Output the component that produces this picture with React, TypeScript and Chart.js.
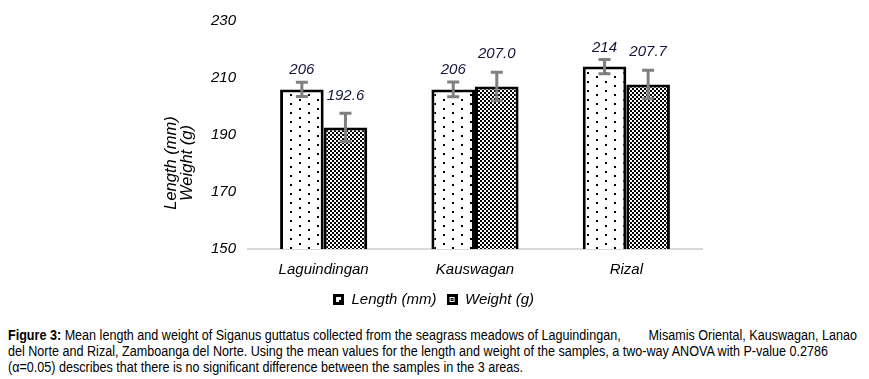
import React, { useEffect, useLayoutEffect, useRef } from "react";
import { Chart, registerables } from "chart.js";

Chart.register(...registerables);

const categories = ["Laguindingan", "Kauswagan", "Rizal"];
const lengthValues = [206, 206, 214];
const weightValues = [192.6, 207.0, 207.7];
const lengthErrors = [2.5, 2.6, 2.5];
const weightErrors = [5, 5, 5];
const lengthLabels = ["206", "206", "214"];
const weightLabels = ["192.6", "207.0", "207.7"];
const yTicks = [150, 170, 190, 210, 230];
const yTitleLines = ["Length (mm)", "Weight (g)"];
const captionLines = [
  " Mean length and weight of Siganus guttatus collected from the seagrass meadows of Laguindingan,        Misamis Oriental, Kauswagan, Lanao",
  "del Norte and Rizal, Zamboanga del Norte. Using the mean values for the length and weight of the samples, a two-way ANOVA with P-value 0.2786",
  "(\u03b1=0.05) describes that there is no significant difference between the samples in the 3 areas.",
];

function makeDotPattern(ctx: CanvasRenderingContext2D) {
  const c = document.createElement("canvas");
  c.width = 18;
  c.height = 9;
  const g = c.getContext("2d")!;
  g.fillStyle = "#fff";
  g.fillRect(0, 0, 18, 9);
  g.fillStyle = "#000";
  g.fillRect(3, 1, 2, 2);
  g.fillRect(12, 5, 2, 2);
  return ctx.createPattern(c, "repeat")!;
}

function makeCheckPattern(ctx: CanvasRenderingContext2D) {
  const c = document.createElement("canvas");
  c.width = 4;
  c.height = 4;
  const g = c.getContext("2d")!;
  g.fillStyle = "#fff";
  g.fillRect(0, 0, 4, 4);
  g.fillStyle = "#000";
  g.fillRect(0, 0, 2, 2);
  g.fillRect(2, 2, 2, 2);
  return ctx.createPattern(c, "repeat")!;
}

function makeLegendIcon(kind: "dot" | "check") {
  const c = document.createElement("canvas");
  c.width = 11;
  c.height = 11;
  const g = c.getContext("2d")!;
  g.fillStyle = "#000";
  g.fillRect(0, 0, 11, 11);
  g.fillStyle = "#fff";
  if (kind === "dot") {
    g.fillRect(3, 3, 5, 5);
    g.fillStyle = "#000";
    g.fillRect(6, 6, 2, 2);
  } else {
    g.fillRect(3, 3, 5, 5);
    g.fillStyle = "#000";
    g.fillRect(4, 4, 3, 3);
    g.fillStyle = "#fff";
    g.fillRect(5, 5, 1, 1);
  }
  return c;
}

const errorLabelPlugin = {
  id: "errorLabels",
  afterDatasetsDraw(chart: any) {
    const ctx = chart.ctx;
    const y = chart.scales.y;
    const errs = [lengthErrors, weightErrors];
    const labs = [lengthLabels, weightLabels];
    const offsets = [12, 18];
    chart.data.datasets.forEach((ds: any, di: number) => {
      const meta = chart.getDatasetMeta(di);
      meta.data.forEach((bar: any, i: number) => {
        const v = ds.data[i];
        const e = errs[di][i];
        const x = bar.x;
        const yt = y.getPixelForValue(v + e);
        const yb = y.getPixelForValue(v - e);
        ctx.save();
        ctx.strokeStyle = "#7f7f7f";
        ctx.lineWidth = 3;
        ctx.beginPath();
        ctx.moveTo(x, yt);
        ctx.lineTo(x, yb);
        ctx.moveTo(x - 6, yt);
        ctx.lineTo(x + 6, yt);
        ctx.moveTo(x - 6, yb);
        ctx.lineTo(x + 6, yb);
        ctx.stroke();
        ctx.fillStyle = "#14143c";
        ctx.font = "italic 15px 'Liberation Sans', Arial, sans-serif";
        ctx.textAlign = "center";
        ctx.textBaseline = "middle";
        ctx.fillText(labs[di][i], x, yt - offsets[di]);
        ctx.restore();
      });
    });
  },
};

const yTitlePlugin = {
  id: "yTitle",
  afterDraw(chart: any) {
    const ctx = chart.ctx;
    const a = chart.chartArea;
    const cy = (a.top + a.bottom) / 2 + 28;
    ctx.save();
    ctx.fillStyle = "#000";
    ctx.font = "italic 16.5px 'Liberation Sans', Arial, sans-serif";
    ctx.textAlign = "center";
    ctx.textBaseline = "middle";
    const xs = [a.left - 77, a.left - 60.5];
    yTitleLines.forEach((t, i) => {
      ctx.save();
      ctx.translate(xs[i], cy);
      ctx.rotate(-Math.PI / 2);
      ctx.fillText(t, 0, 0);
      ctx.restore();
    });
    ctx.restore();
  },
};

export default function App() {
  const ref = useRef<HTMLCanvasElement>(null);
  const capRef = useRef<HTMLDivElement>(null);
  const line1Ref = useRef<HTMLDivElement>(null);

  useLayoutEffect(() => {
    const cap = capRef.current!;
    const l1 = line1Ref.current!;
    const w = l1.getBoundingClientRect().width;
    const k = 849 / w;
    cap.style.transform = `scaleX(${k})`;
  }, []);

  useEffect(() => {
    const canvas = ref.current!;
    const ctx = canvas.getContext("2d")!;
    const dotPat = makeDotPattern(ctx);
    const checkPat = makeCheckPattern(ctx);
    const font = { family: "'Liberation Sans', Arial, sans-serif", size: 15, style: "italic" as const };
    const chart = new Chart(canvas, {
      type: "bar",
      data: {
        labels: categories,
        datasets: [
          {
            label: "Length (mm)",
            data: lengthValues,
            backgroundColor: dotPat,
            borderColor: "#000",
            borderWidth: 3,
            pointStyle: makeLegendIcon("dot") as any,
          },
          {
            label: "Weight (g)",
            data: weightValues,
            backgroundColor: checkPat,
            borderColor: "#000",
            borderWidth: 3,
            pointStyle: makeLegendIcon("check") as any,
          },
        ],
      },
      options: {
        animation: false,
        responsive: false,
        maintainAspectRatio: false,
        datasets: { bar: { categoryPercentage: 0.576, barPercentage: 1 } },
        layout: { padding: { left: 157, right: 159, top: 4, bottom: 1 } },
        plugins: {
          legend: {
            position: "bottom",
            labels: {
              usePointStyle: true,
              color: "#000",
              font,
              padding: 10,
              boxWidth: 11,
              boxHeight: 11,
            },
          },
          tooltip: { enabled: false },
        },
        scales: {
          x: {
            grid: { display: false },
            border: { display: true, color: "#d9d9d9", width: 2 },
            ticks: { color: "#000", font, padding: 4 },
            afterFit: (s: any) => {
              s.height = 33;
            },
          },
          y: {
            min: 150,
            max: 230,
            afterBuildTicks: (s: any) => {
              s.ticks = yTicks.map((v) => ({ value: v }));
            },
            grid: { display: false },
            border: { display: false },
            ticks: { color: "#000", font, padding: 4 },
            afterFit: (s: any) => {
              s.width = 83;
            },
          },
        },
      },
      plugins: [errorLabelPlugin, yTitlePlugin],
    });
    return () => chart.destroy();
  }, []);

  return (
    <div style={{ overflow: "hidden" }}>
      <canvas ref={ref} width={853} height={310} style={{ display: "block", width: 853, height: 310 }} />
      <div
        ref={capRef}
        style={{
          display: "inline-block",
          marginTop: 9,
          transformOrigin: "0 0",
          fontFamily: "'Liberation Sans', Arial, sans-serif",
          fontSize: 14,
          lineHeight: "16px",
          color: "#000",
          whiteSpace: "pre",
        }}
      >
        <div ref={line1Ref} style={{ display: "inline-block" }}>
          <b>Figure 3:</b>
          {captionLines[0]}
        </div>
        <div>{captionLines[1]}</div>
        <div>{captionLines[2]}</div>
      </div>
    </div>
  );
}
